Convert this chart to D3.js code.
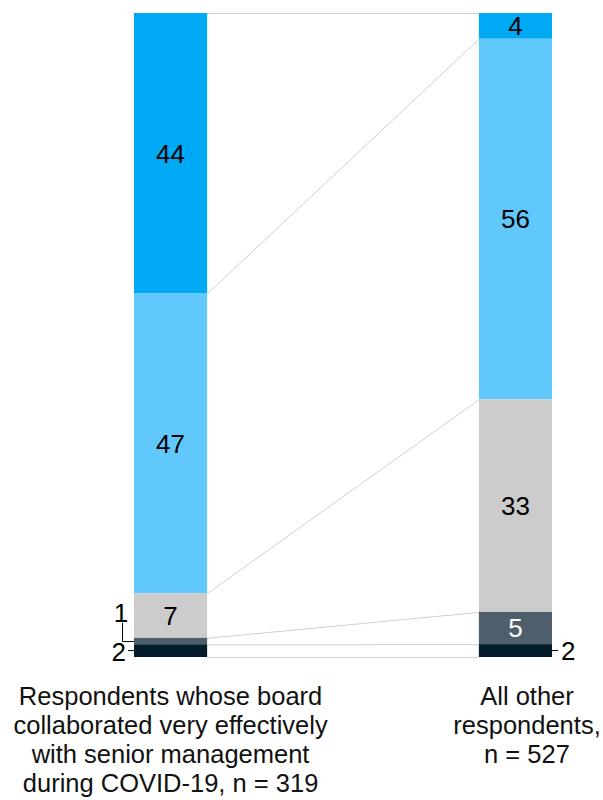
<!DOCTYPE html>
<html lang="en">
<head>
    <meta charset="UTF-8">
    <title>Board collaboration</title>
    <script src="https://d3js.org/d3.v7.min.js"></script>
    <style>
        body { margin: 0; background: #fff; }
        svg text { font-family: "Liberation Sans", Arial, sans-serif; }
        .link { fill: none; stroke: #d0d0d0; stroke-width: 1px; }
        .tick-line { fill: none; stroke: #000; stroke-width: 1px; }
    </style>
</head>
<body>
    <div id="chart"></div>
    <script>
        // data
        const groups = ["board", "other"];
        const groupLabels = [
            ["Respondents whose board", "collaborated very effectively", "with senior management", "during COVID-19, n = 319"],
            ["All other", "respondents,", "n = 527"]
        ];
        const levels = ["level1", "level2", "level3", "level4", "level5"];
        const boardValues = [44, 47, 7, 1, 2];
        const otherValues = [4, 56, 33, 5, 2];

        const colors = ["#00a9f4", "#61c8fc", "#cccccc", "#4e5f6b", "#051c2c"];
        const textColors = ["#000", "#000", "#000", "#fff", "#fff"];

        const width = 603, height = 800;
        const yTop = 13, yBottom = 657;
        const valueSize = 26, labelSize = 25.5;

        const svg = d3.select("#chart").append("svg")
            .attr("width", width)
            .attr("height", height);

        const x = d3.scaleBand()
            .domain(groups)
            .range([134, 552])
            .paddingInner(0.788)
            .paddingOuter(0);

        const series = [boardValues, otherValues];

        // stack each bar to its own total
        const stacks = series.map((vals, gi) => {
            const total = d3.sum(vals);
            const y = d3.scaleLinear().domain([0, total]).range([yTop, yBottom]);
            let acc = 0;
            return vals.map((v, i) => {
                const seg = { group: groups[gi], level: levels[i], i: i, value: v, y0: y(acc), y1: y(acc + v) };
                acc += v;
                return seg;
            });
        });

        // connector lines between segment boundaries
        const bw = x.bandwidth();
        const bounds = [];
        for (let i = 0; i <= levels.length; i++) {
            const a = i < levels.length ? stacks[0][i].y0 : stacks[0][i - 1].y1;
            const b = i < levels.length ? stacks[1][i].y0 : stacks[1][i - 1].y1;
            bounds.push({ a: a, b: b });
        }
        svg.selectAll(".link")
            .data(bounds)
            .enter()
            .append("line")
            .attr("class", "link")
            .attr("x1", x("board") + bw)
            .attr("x2", x("other"))
            .attr("y1", d => d.a + 0.5)
            .attr("y2", d => d.b + 0.5);

        // bars
        const bar = svg.selectAll(".bar")
            .data(stacks)
            .enter()
            .append("g")
            .attr("class", "bar");

        bar.selectAll("rect")
            .data(d => d)
            .enter()
            .append("rect")
            .attr("x", d => x(d.group))
            .attr("width", bw)
            .attr("y", d => d.y0)
            .attr("height", d => d.y1 - d.y0)
            .attr("fill", d => colors[d.i]);

        // labels inside big segments
        bar.selectAll("text.val")
            .data(d => d.filter(s => s.value > 2))
            .enter()
            .append("text")
            .attr("class", "val")
            .attr("x", d => x(d.group) + bw / 2)
            .attr("y", d => (d.y0 + d.y1) / 2)
            .attr("dy", "0.36em")
            .attr("text-anchor", "middle")
            .attr("font-size", valueSize)
            .attr("fill", d => textColors[d.i])
            .text(d => d.value);

        // small values outside the bars
        const lb = stacks[0][3]; // 1
        const lx = x("board");
        svg.append("path")
            .attr("class", "tick-line")
            .attr("d", `M${lx - 11.5},${lb.y0 - 15}V${(lb.y0 + lb.y1) / 2 + 0.5}H${lx}`);
        svg.append("text")
            .attr("x", lx - 13)
            .attr("y", lb.y0 - 16)
            .attr("text-anchor", "middle")
            .attr("font-size", valueSize)
            .text(lb.value);

        const l2 = stacks[0][4];
        svg.append("line")
            .attr("class", "tick-line")
            .attr("x1", lx - 6).attr("x2", lx)
            .attr("y1", (l2.y0 + l2.y1) / 2).attr("y2", (l2.y0 + l2.y1) / 2);
        svg.append("text")
            .attr("x", lx - 8)
            .attr("y", (l2.y0 + l2.y1) / 2)
            .attr("dy", "0.38em")
            .attr("text-anchor", "end")
            .attr("font-size", valueSize)
            .text(l2.value);

        const r2 = stacks[1][4];
        const rx = x("other") + bw;
        svg.append("line")
            .attr("class", "tick-line")
            .attr("x1", rx).attr("x2", rx + 6)
            .attr("y1", (r2.y0 + r2.y1) / 2).attr("y2", (r2.y0 + r2.y1) / 2);
        svg.append("text")
            .attr("x", rx + 9)
            .attr("y", (r2.y0 + r2.y1) / 2)
            .attr("dy", "0.38em")
            .attr("text-anchor", "start")
            .attr("font-size", valueSize)
            .text(r2.value);

        // group labels
        const labelCx = [x("board") + bw / 2, 527];
        groupLabels.forEach((lines, gi) => {
            const t = svg.append("text")
                .attr("text-anchor", "middle")
                .attr("font-size", labelSize)
                .attr("fill", "#111");
            lines.forEach((ln, k) => {
                t.append("tspan")
                    .attr("x", labelCx[gi])
                    .attr("y", 705 + k * 29)
                    .text(ln);
            });
        });
    </script>
</body>
</html>
